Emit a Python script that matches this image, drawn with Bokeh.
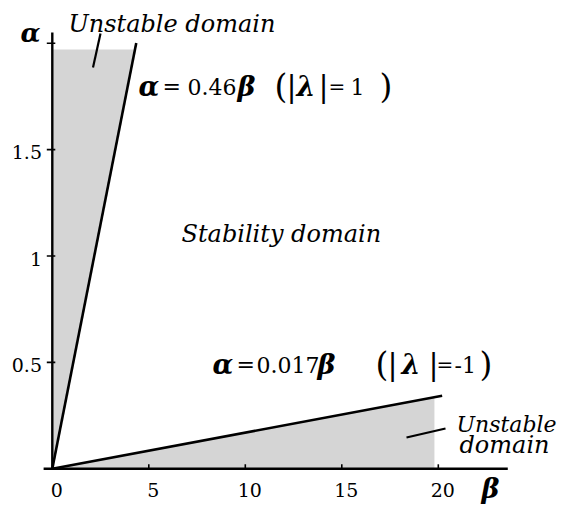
from bokeh.plotting import figure
from bokeh.models import Range1d, Label
from bokeh.embed import file_html
from bokeh.resources import INLINE

# Stability boundaries of the form alpha = k * beta
slope_upper = 0.46     # |lambda| = 1
slope_lower = 0.017    # |lambda| = -1

# Extent of the shaded unstable wedges
alpha_top = 1.97       # upper wedge is cut at this alpha
beta_right = 19.8      # lower wedge is cut at this beta

# Extent of the drawn boundary lines
beta_end_upper = 4.35
beta_end_lower = 20.2

# Axes
x_ticks = [0, 5, 10, 15, 20]
x_tick_labels = ["0", "5", "10", "15", "20"]
y_ticks = [0.5, 1.0, 1.5, 2.0]
y_tick_labels = ["0.5", "1", "1.5", ""]
x_axis_span = [-0.45, 23.6]
y_axis_span = [0.0, 2.05]

# Canvas layout: pixel position of the origin and pixels per unit
W, H = 565, 505
X0, Y0 = 51.8, 468.3
SX, SY = 19.3, 212.8

SERIF = "DejaVu Serif"
INK = "#000000"
SHADE = "#d5d5d5"

p = figure(
    width=W, height=H,
    x_range=Range1d(-X0 / SX, (W - X0) / SX),
    y_range=Range1d((Y0 - H) / SY, Y0 / SY),
    x_axis_location=None, y_axis_location=None,
    output_backend="svg", toolbar_location=None, min_border=0,
)
p.grid.visible = False
p.outline_line_color = None
p.background_fill_color = "white"
p.border_fill_color = "white"


def canvas(xpx, ypx):
    """Convert a canvas pixel position to data coordinates."""
    return (xpx - X0) / SX, (Y0 - ypx) / SY


def put(text, xpx, ypx, size, style="normal", align="left", baseline="alphabetic"):
    x, y = canvas(xpx, ypx)
    p.add_layout(Label(x=x, y=y, text=text, text_font=SERIF,
                       text_font_size=f"{size}px", text_font_style=style,
                       text_align=align, text_baseline=baseline,
                       text_color=INK))


# Shaded unstable regions
p.patch([0, 0, alpha_top / slope_upper], [0, alpha_top, alpha_top],
        fill_color=SHADE, line_color=None)
p.patch([0, beta_right, beta_right], [0, slope_lower * beta_right, 0],
        fill_color=SHADE, line_color=None)

# Boundary lines
p.line([0, beta_end_upper], [0, slope_upper * beta_end_upper],
       line_color=INK, line_width=2.6)
p.line([0, beta_end_lower], [0, slope_lower * beta_end_lower],
       line_color=INK, line_width=2.6)

# Axis lines
p.line(x_axis_span, [0, 0], line_color=INK, line_width=2.4)
p.line([0, 0], y_axis_span, line_color=INK, line_width=2.4)

# Tick marks
tick_up = 4.5 / SY
p.segment(x0=x_ticks[1:], y0=[0] * (len(x_ticks) - 1),
          x1=x_ticks[1:], y1=[tick_up] * (len(x_ticks) - 1),
          line_color=INK, line_width=1.6)
p.segment(x0=[-5.5 / SX] * len(y_ticks), y0=y_ticks,
          x1=[3.0 / SX] * len(y_ticks), y1=y_ticks,
          line_color=INK, line_width=1.6)

# Tick labels
for t, lab in zip(x_ticks, x_tick_labels):
    put(lab, X0 + t * SX + 4.5, 489, 19, align="center")
for t, lab in zip(y_ticks, y_tick_labels):
    if lab:
        put(lab, 41.5, Y0 - t * SY + 2.5, 19, align="right")

# Axis titles
put("α", 20, 32, 26, "bold italic")
put("β", 481, 488, 27, "bold italic")

# Region names
put("Unstable domain", 68, 23, 24, "italic")
put("Stability domain", 181, 233, 24, "italic")
put("Unstable", 456, 424, 22, "italic")
put("domain", 459, 444, 24, "italic")

# Leader strokes from the region names
for (xa, ya), (xb, yb) in [((100, 33), (92.5, 67)), ((406, 437), (445, 428))]:
    (bx0, ay0), (bx1, ay1) = canvas(xa, ya), canvas(xb, yb)
    p.line([bx0, bx1], [ay0, ay1], line_color=INK, line_width=2.2)

# Boundary formulas
upper_eq = [("α", 138, 27, "bold italic"), ("=", 162, 22, "normal"),
            ("0.46", 187, 22, "normal"), ("β", 237, 27, "bold italic"),
            ("(", 274, 33, "normal"), ("|", 286, 30, "normal"),
            ("λ", 296, 27, "bold italic"), ("|", 318, 30, "normal"),
            ("=", 328, 20, "normal"), ("1", 350, 22, "normal"),
            (")", 379, 33, "normal")]
for txt, xpx, size, style in upper_eq:
    put(txt, xpx, 86, size, style)

lower_eq = [("α", 212, 27, "bold italic"), ("=", 236, 22, "normal"),
            ("0.017", 256, 22, "normal"), ("β", 317, 27, "bold italic"),
            ("(", 375, 33, "normal"), ("|", 387, 30, "normal"),
            ("λ", 401, 27, "bold italic"), ("|", 428, 30, "normal"),
            ("=", 436, 20, "normal"), ("-1", 454, 22, "normal"),
            (")", 479, 33, "normal")]
for txt, xpx, size, style in lower_eq:
    put(txt, xpx, 364, size, style)

open("out.html", "w").write(file_html(p, INLINE))
